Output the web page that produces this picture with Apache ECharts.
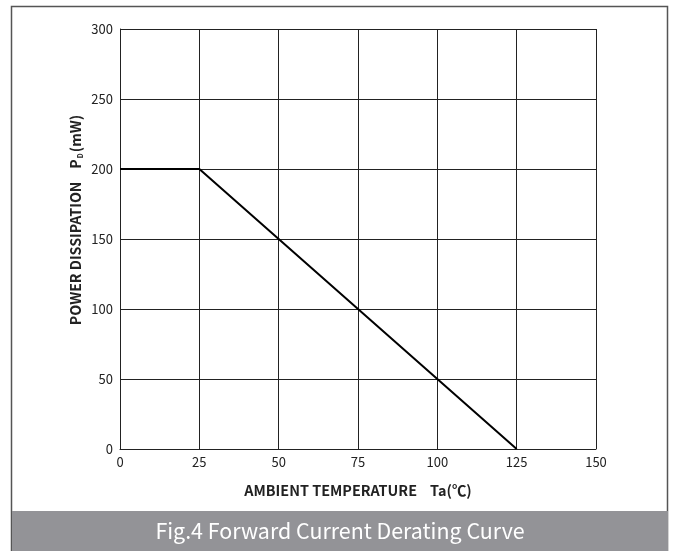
<!DOCTYPE html>
<html><head><meta charset="utf-8">
<script src="https://cdn.jsdelivr.net/npm/echarts@6/dist/echarts.min.js"></script>
<style>html,body{margin:0;padding:0;background:#fff}#c{width:677px;height:551px}</style>
</head><body><div id="c"></div>
<script>
const temps = [0, 25, 125];
const power = [200, 200, 0];
const xTicks = [0, 25, 50, 75, 100, 125, 150];
const yTicks = [0, 50, 100, 150, 200, 250, 300];
const xTitle = 'AMBIENT TEMPERATURE    Ta(℃)';
const yTitleMain = 'POWER DISSIPATION    P';
const yTitleSub = 'D';
const yTitleUnit = '(mW)';
const caption = 'Fig.4 Forward Current Derating Curve';

const chart = echarts.init(document.getElementById('c'), null, {renderer: 'canvas'});
const font = '"Noto Sans CJK SC", "Noto Sans", sans-serif';
chart.setOption({
  animation: false,
  backgroundColor: '#fff',
  grid: {left: 120, right: 81, top: 29, bottom: 102, containLabel: false},
  xAxis: {
    type: 'value', min: xTicks[0], max: xTicks[xTicks.length-1], interval: 25,
    axisLine: {show: true, lineStyle: {color: '#222', width: 1}},
    axisTick: {show: false},
    splitLine: {show: true, lineStyle: {color: '#222', width: 1}},
    axisLabel: {color: '#222', fontSize: 13, fontFamily: font, margin: 7},
    name: xTitle, nameLocation: 'middle', nameGap: 34,
    nameTextStyle: {color: '#222', fontSize: 14.4, fontWeight: 'bold', fontFamily: font}
  },
  yAxis: {
    type: 'value', min: yTicks[0], max: yTicks[yTicks.length-1], interval: 50,
    axisLine: {show: true, lineStyle: {color: '#222', width: 1}},
    axisTick: {show: false},
    splitLine: {show: true, lineStyle: {color: '#222', width: 1}},
    axisLabel: {color: '#222', fontSize: 13, fontFamily: font, margin: 7}
  },
  graphic: [
    {type: 'rect', shape: {x: 11.5, y: 6.5, width: 656, height: 550}, style: {fill: 'none', stroke: '#555', lineWidth: 1.5}, z: 10},
    {type: 'rect', shape: {x: 12, y: 511, width: 656, height: 40}, style: {fill: '#939397'}, z: 11},
    {type: 'text', x: 340, y: 531, style: {text: caption, fill: '#fff', fontSize: 21.4, fontFamily: font, align: 'center', verticalAlign: 'middle'}, z: 12},
    {type: 'text', x: 76, y: 220, rotation: Math.PI / 2,
     style: {
       text: '{n|' + yTitleMain + '}{s|' + yTitleSub + '}{n|' + yTitleUnit + '}',
       align: 'center', verticalAlign: 'middle',
       rich: {
         n: {fill: '#222', fontSize: 14.2, fontWeight: 'bold', fontFamily: font},
         s: {fill: '#222', fontSize: 7, fontWeight: 'bold', fontFamily: font, verticalAlign: 'bottom', padding: [8, 1, 0, 1]}
       }
     }, z: 12}
  ],
  series: [{
    type: 'line',
    data: temps.map((t, i) => [t, power[i]]),
    showSymbol: false,
    lineStyle: {color: '#000', width: 2},
    z: 5
  }]
});
</script></body></html>
